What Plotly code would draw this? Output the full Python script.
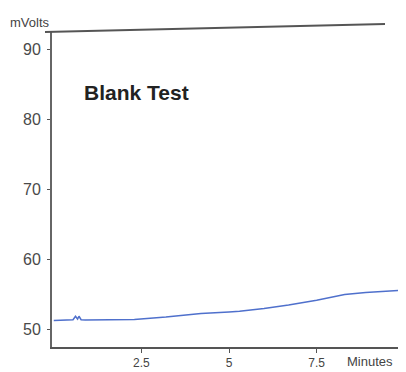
import plotly.graph_objects as go

minutes = [0.0, 0.3, 0.55, 0.62, 0.68, 0.72, 0.78, 0.9, 1.5, 2.3, 3.2, 4.2, 5.0, 5.3, 6.0, 6.7, 7.5, 8.0, 8.3, 8.9, 9.4, 9.9, 10.05]
mvolts = [51.3, 51.3, 51.4, 51.9, 51.5, 51.9, 51.4, 51.35, 51.4, 51.45, 51.8, 52.3, 52.5, 52.6, 53.0, 53.5, 54.2, 54.7, 55.0, 55.3, 55.4, 55.6, 55.2]
y_ticks = [50, 60, 70, 80, 90]
x_ticks = [2.5, 5, 7.5]
x_tick_labels = ["2.5", "5", "7.5"]

OFF = 8  # default page margin
W, H = 406 - OFF, 372 - OFF
L, R, T, B = 52 - OFF, 0, 31 - OFF, 372 - 347
PW, PH = W - L - R, H - T - B


def px(wx):
    return (wx - OFF - L) / PW


def py(wy):
    return 1 - (wy - OFF - T) / PH


fig = go.Figure()
fig.add_trace(go.Scatter(x=minutes, y=mvolts, mode="lines",
                         line=dict(color="#4f70cc", width=1.5), hoverinfo="skip"))

fig.update_layout(
    width=W, height=H,
    margin=dict(l=L, r=R, t=T, b=B, autoexpand=False),
    paper_bgcolor="white", plot_bgcolor="white",
    showlegend=False,
    font=dict(family="Liberation Sans, Arial, sans-serif", color="#444"),
    xaxis=dict(range=[-0.05, 10.05], tickvals=x_ticks, ticktext=x_tick_labels, automargin=False,
               showgrid=False, zeroline=False, showline=True, linecolor="#555", linewidth=2,
               ticks="outside", ticklen=4, tickcolor="#555", ticklabelstandoff=0,
               tickfont=dict(size=12, color="#444")),
    yaxis=dict(range=[47.5, 92.7], tickvals=y_ticks, automargin=False,
               showgrid=False, zeroline=False, showline=True, linecolor="#666", linewidth=2,
               ticks="outside", ticklen=3, tickcolor="#555", ticklabelstandoff=3,
               tickfont=dict(size=16, color="#4a4a4a")),
    annotations=[
        dict(text="<b>Blank Test</b>", x=px(82), y=py(92),
             xref="paper", yref="paper", xanchor="left", yanchor="middle", showarrow=False,
             font=dict(size=21, color="#222")),
        dict(text="mVolts", x=px(8), y=py(22), xref="paper", yref="paper",
             xanchor="left", yanchor="middle", showarrow=False, font=dict(size=13, color="#444")),
        dict(text="Minutes", x=px(345), y=py(361),
             xref="paper", yref="paper", xanchor="left", yanchor="middle", showarrow=False,
             font=dict(size=13, color="#444")),
    ],
    shapes=[
        dict(type="line", xref="paper", yref="paper",
             x0=px(45), x1=px(385), y0=py(32), y1=py(24),
             line=dict(color="#555", width=2)),
    ],
)

fig.write_html("out.html")
